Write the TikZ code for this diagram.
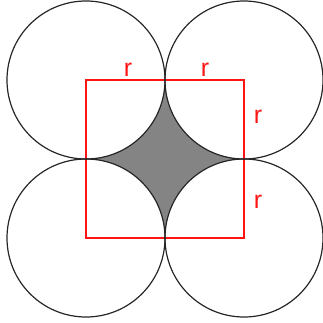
\documentclass[tikz,border=0pt]{standalone}
\usepackage{fontspec}
\setmainfont{Liberation Sans}
\definecolor{sqred}{RGB}{255, 20, 20}
\definecolor{holegray}{RGB}{132, 132, 132}
\usepackage{tikz}
\usetikzlibrary{calc}

\begin{document}
\begin{tikzpicture}[
  x=1pt, y=1pt,
  disc/.style={draw=black!85, line width=1.2pt},
  sqline/.style={draw=sqred, line width=1.4pt},
  rlabel/.style={text=sqred, anchor=base, inner sep=0pt, font=\fontsize{25}{25}\selectfont}
]
  \useasboundingbox (0,0) rectangle (323,322);
  \def\rad{79}
  % centres of the four circles
  \coordinate (tl) at (86,242);
  \coordinate (tr) at (244,242);
  \coordinate (bl) at (86,84);
  \coordinate (br) at (244,84);

  % shaded gap between the circles
  \fill[holegray] (165,242) arc[start angle=180, end angle=270, radius=\rad]
    arc[start angle=90, end angle=180, radius=\rad]
    arc[start angle=0, end angle=90, radius=\rad]
    arc[start angle=270, end angle=360, radius=\rad] -- cycle;

  \draw[sqline] (tl) -- (tr) -- (br) -- (bl) -- cycle;

  \foreach \c in {tl, tr, bl, br}
    \draw[disc] (\c) circle[radius=\rad];

  \node[rlabel] (r1) at (128,246) {r};
  \node[rlabel] (r2) at (205,246) {r};
  \node[rlabel] (r3) at (258,199) {r};
  \node[rlabel] (r4) at (258,114) {r};
\end{tikzpicture}
\end{document}
